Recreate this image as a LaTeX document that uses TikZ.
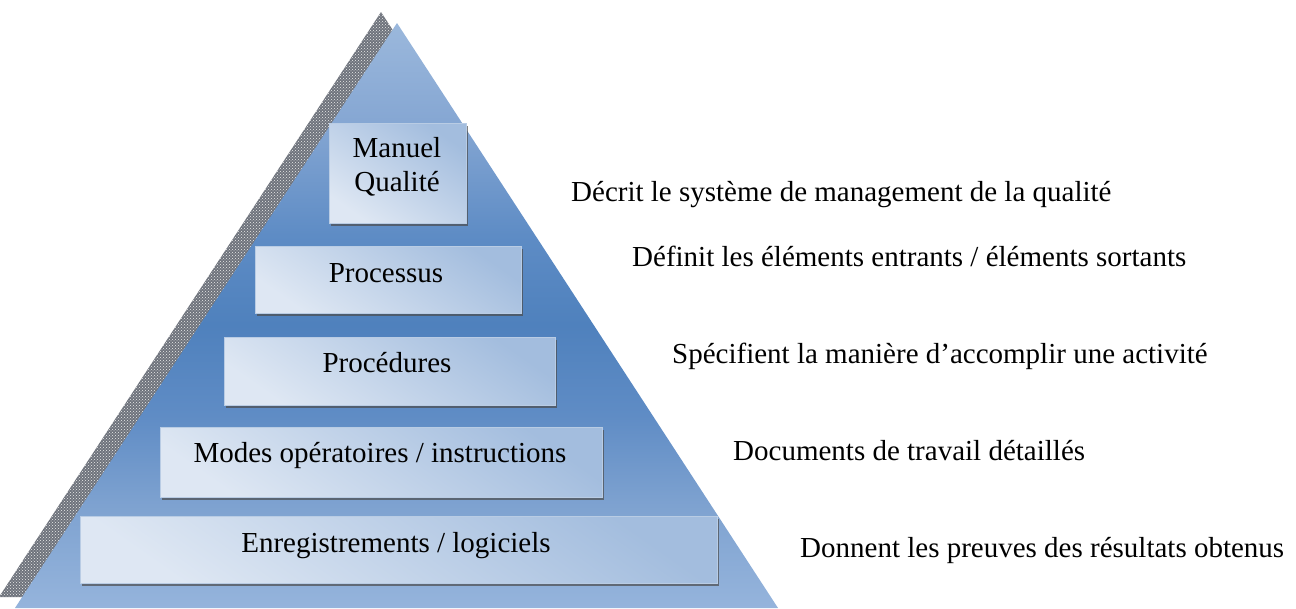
\documentclass[tikz,border=0pt]{standalone}
\usepackage{fontspec}
\setmainfont{Liberation Serif}
\usetikzlibrary{patterns,shadows}
\definecolor{pyrA}{HTML}{9BB8DC}
\definecolor{pyrB}{HTML}{86A7D3}
\definecolor{pyrC}{HTML}{5E8CC5}
\definecolor{pyrD}{HTML}{4F81BD}
\definecolor{pyrE}{HTML}{5F8CC5}
\definecolor{pyrF}{HTML}{7EA2D0}
\definecolor{pyrG}{HTML}{95B4DC}
\definecolor{boxlight}{HTML}{DEE7F3}
\definecolor{boxblue}{HTML}{A3BDDE}
\definecolor{boxedge}{HTML}{B9CCE4}
\definecolor{stripgray}{HTML}{6E737C}
\pgfdeclareverticalshading{pyrshade}{100bp}{%
  color(0bp)=(pyrG); color(25bp)=(pyrG); color(33.8bp)=(pyrF);
  color(41.5bp)=(pyrE); color(49.2bp)=(pyrD); color(56.9bp)=(pyrC);
  color(66.7bp)=(pyrB); color(75bp)=(pyrA); color(100bp)=(pyrA)}
\tikzset{
  levelbox/.style={draw=boxedge, line width=0.8pt, shading=axis,
    top color=boxblue, bottom color=boxlight, shading angle=-35,
    drop shadow={shadow xshift=1.5pt, shadow yshift=-2.5pt, opacity=0.7, fill=black!70}},
  lbl/.style={inner sep=0pt, anchor=base, font=\fontsize{29}{35}\selectfont},
  desc/.style={inner sep=0pt, anchor=base west, font=\fontsize{29}{35}\selectfont}
}
\begin{document}
\begin{tikzpicture}[x=1pt,y=-1pt]
\useasboundingbox (0,0) rectangle (1296,608);
% shadow strip
\fill[stripgray] (381,12) -- (-1,597) -- (762,597) -- cycle;
\fill[pattern=crosshatch dots, pattern color=white!85!gray] (381,12) -- (-1,597) -- (762,597) -- cycle;
% pyramid
\shade[shading=pyrshade] (397,23) -- (15,608) -- (778,608) -- cycle;
% boxes
\node[levelbox, minimum width=137pt, minimum height=100pt] (mq) at (397.5,173) {};
\node[levelbox, minimum width=266pt, minimum height=67pt] (pr) at (388,279.5) {};
\node[levelbox, minimum width=331pt, minimum height=68pt] (pc) at (389.5,371) {};
\node[levelbox, minimum width=442pt, minimum height=70pt] (mo) at (381,462) {};
\node[levelbox, minimum width=637pt, minimum height=67pt] (en) at (398.5,549.5) {};
% box texts
\node[lbl] (mqa) at (397,157) {Manuel};
\node[lbl] (mqb) at (397,191) {Qualité};
\node[lbl] (prt) at (386,282) {Processus};
\node[lbl] (pct) at (387,372) {Procédures};
\node[lbl] (mot) at (380,462) {Modes opératoires / instructions};
\node[lbl] (ent) at (396,552) {Enregistrements / logiciels};
% descriptions
\node[desc] (d1) at (571,201) {Décrit le système de management de la qualité};
\node[desc] (d2) at (632,266) {Définit les éléments entrants / éléments sortants};
\node[desc] (d3) at (672,363) {Spécifient la manière d’accomplir une activité};
\node[desc] (d4) at (733,460) {Documents de travail détaillés};
\node[desc] (d5) at (800,557) {Donnent les preuves des résultats obtenus};
\end{tikzpicture}
\end{document}
